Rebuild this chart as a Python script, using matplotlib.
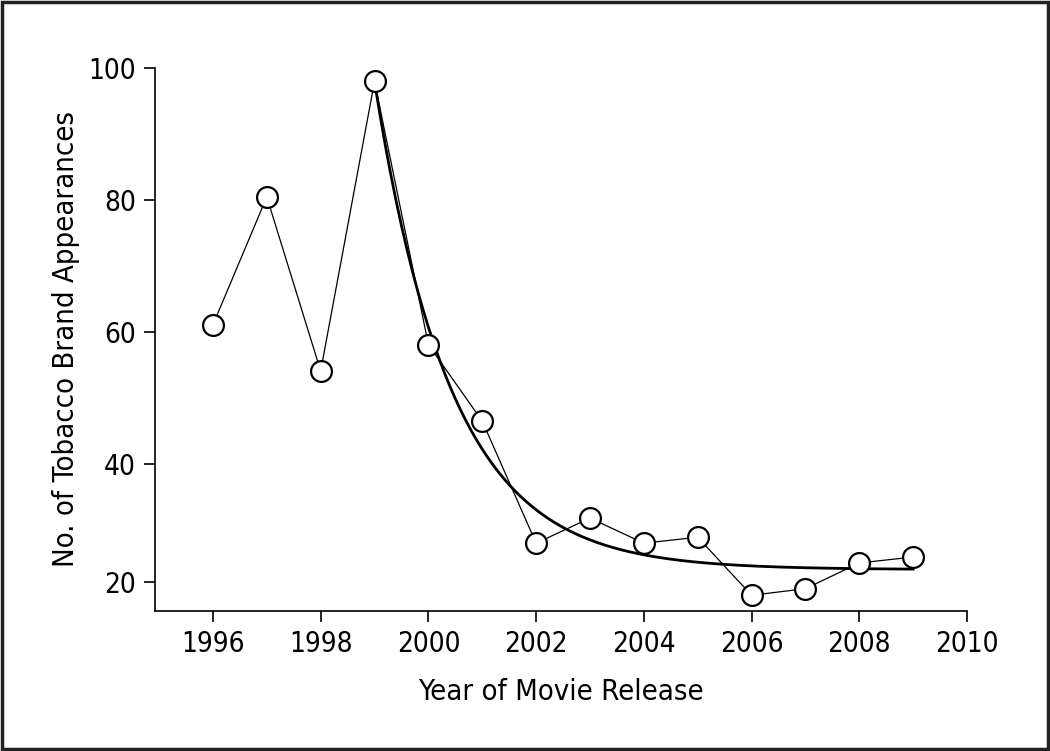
import matplotlib.pyplot as plt
import numpy as np
from matplotlib.patches import Rectangle

# yearly counts
years = [1996, 1997, 1998, 1999, 2000, 2001, 2002,
         2003, 2004, 2005, 2006, 2007, 2008, 2009]
appearances = [61.1, 80.5, 54.1, 98.0, 58.1, 46.5, 28.0,
               31.8, 28.0, 28.9, 20.1, 21.1, 25.0, 25.9]

# exponential fit drawn from 1999 onward (parameters)
fit_start = 1999
fit_end = 2009
fit_asymptote = 24.0
fit_amplitude = 74.0
fit_rate = 0.7

x_ticks = [1996, 1998, 2000, 2002, 2004, 2006, 2008, 2010]
y_tick_labels = ["20", "40", "60", "80", "100"]
# the "20" tick sits a little above the true 20 level in the original
y_tick_values = [22.06, 40, 60, 80, 100]

plt.rcParams["font.family"] = ["DejaVu Sans"]
plt.rcParams["font.stretch"] = "condensed"


def plot_appearances():
    fig = plt.figure(figsize=(10.5, 7.51), dpi=100)
    ax = fig.add_axes([0.1479, 0.1868, 0.9210 - 0.1479, 0.9091 - 0.1868])

    t = np.linspace(fit_start, fit_end, 200)
    fit = fit_asymptote + fit_amplitude * np.exp(-fit_rate * (t - fit_start))
    ax.plot(t, fit, color="black", lw=2.0, zorder=2)

    ax.plot(years, appearances,
            color="black", lw=0.9,
            marker="o", markersize=15,
            markerfacecolor="white", markeredgecolor="black",
            markeredgewidth=1.6, zorder=3, clip_on=False)

    ax.set(
        xlim=[1994.93, 2010],
        ylim=[17.76, 100],
        xticks=x_ticks,
        yticks=y_tick_values,
        )
    ax.set_yticklabels(y_tick_labels)

    for side in ["top", "right"]:
        ax.spines[side].set_visible(False)
    for side in ["left", "bottom"]:
        ax.spines[side].set_linewidth(1.2)

    ax.tick_params(direction="out", length=8, width=1.2,
                   labelsize=20, pad=6)
    ax.set_xlabel("Year of Movie Release", fontsize=21, labelpad=14)
    ax.set_ylabel("No. of Tobacco Brand Appearances", fontsize=21,
                  labelpad=6)

    fig.patches.append(Rectangle((0.0015, 0.002), 0.997, 0.996,
                                 transform=fig.transFigure, fill=False,
                                 edgecolor="#222222", lw=2.5))

    fig.savefig("out.png", dpi=100)
    return fig


plot_appearances()
